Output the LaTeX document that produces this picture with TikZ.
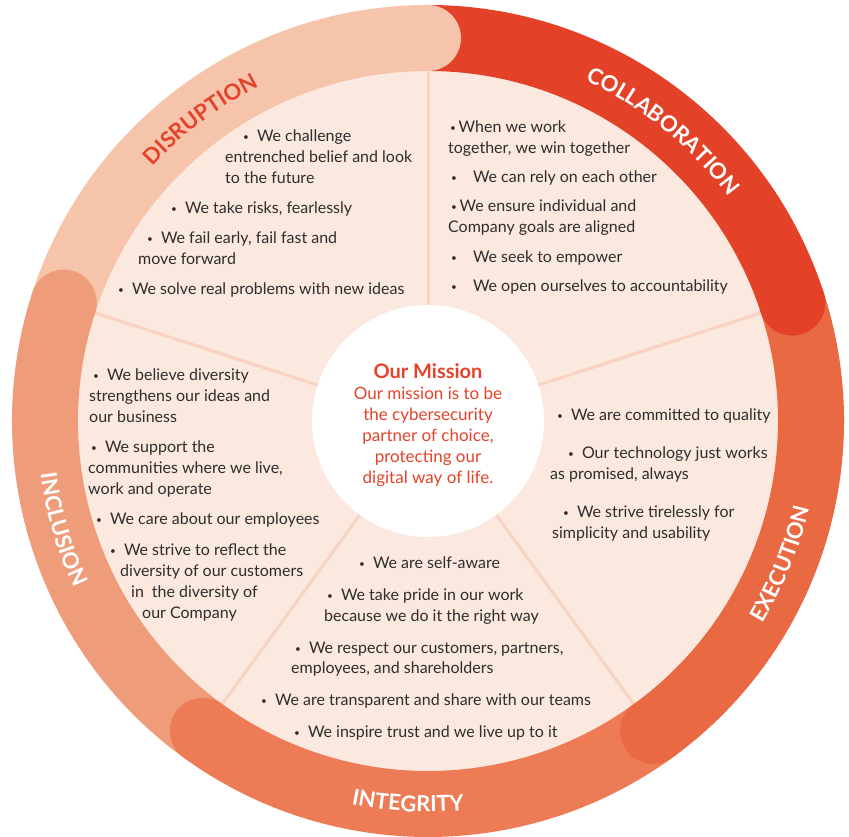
\documentclass[tikz,border=0pt]{standalone}
\usepackage{fontspec}
\setmainfont{Lato}
\usetikzlibrary{decorations.text}

\definecolor{disrupt}{HTML}{F6C4AB}
\definecolor{collab}{HTML}{E34229}
\definecolor{execut}{HTML}{E96943}
\definecolor{integ}{HTML}{EC7B56}
\definecolor{inclus}{HTML}{EF9C7B}
\definecolor{petal}{HTML}{FBE8DE}
\definecolor{spoke}{HTML}{F8D3C1}
\definecolor{ink}{HTML}{2E2E2E}
\definecolor{missred}{HTML}{E3432A}

\newcommand{\bul}{\raisebox{1.2pt}{\fontsize{10}{10}\selectfont\textbullet}}
\newcommand{\lab}{\fontsize{22}{22}\selectfont\bfseries}

\tikzset{
    txt/.style={anchor=base west, inner sep=0pt, text=ink, font=\fontsize{16}{19}\selectfont},
    band/.style={line width=66pt},
    arclab/.style={decorate, decoration={text along path, text align=center, text={#1}}},
}

\begin{document}
\begin{tikzpicture}[x=1pt, y=1pt, line join=round]
    \useasboundingbox (0,0) rectangle (849,837);
    \begin{scope}[shift={(428,416)}]
        \fill[petal] (0,0) circle (351);
        \foreach \a in {90,18,-54,-126,162}
            \draw[spoke, line width=3pt] (\a:115) -- (\a:351);
        % ring
        \draw[band, disrupt] (162:383) arc[start angle=162, end angle=90, radius=383];
        \draw[band, collab] (90:383) arc[start angle=90, end angle=18, radius=383];
        \draw[band, execut] (18:383) arc[start angle=18, end angle=-54, radius=383];
        \draw[band, integ] (-54:383) arc[start angle=-54, end angle=-126, radius=383];
        \draw[band, inclus] (-126:383) arc[start angle=-126, end angle=-198, radius=383];
        \fill[disrupt] (90:383) circle (33);
        \fill[collab] (18:383) circle (33);
        \fill[execut] (-54:383) circle (33);
        \fill[integ] (-126:383) circle (33);
        \fill[inclus] (162:383) circle (33);
        % labels on the ring
        \path[arclab={|\lab\color{missred}|DISRUPTION}] (157:375) arc[start angle=157, end angle=97, radius=375];
        \path[arclab={|\lab\color{white}|COLLABORATION}] (85:375) arc[start angle=85, end angle=17, radius=375];
        \path[arclab={|\lab\color{white}|EXECUTION}] (-52:391) arc[start angle=-52, end angle=8, radius=391];
        \path[arclab={|\lab\color{white}|INTEGRITY}] (-123:391) arc[start angle=-123, end angle=-63, radius=391];
        \path[arclab={|\lab\color{white}|INCLUSION}] (166:391) arc[start angle=166, end angle=227, radius=391];
        \node[circle, fill=white, minimum size=232pt, inner sep=0pt] (hub) at (0,0) {};
    \end{scope}

    \node[anchor=center, align=center, inner sep=0pt, text=missred, font=\fontsize{17}{21}\selectfont] (mission) at (428,412)
        {{\bfseries\fontsize{20}{21}\selectfont Our Mission}\\Our mission is to be\\the cybersecurity\\partner of choice,\\protecting our\\digital way of life.};

    % disruption
    \node[txt] (d1) at (243,695) {\bul\enspace We challenge};
    \node[txt] (d2) at (225,674) {entrenched belief and look};
    \node[txt] (d3) at (225,653) {to the future};
    \node[txt] (d4) at (171,623) {\bul\enspace We take risks, fearlessly};
    \node[txt] (d5) at (147,593) {\bul\enspace We fail early, fail fast and};
    \node[txt] (d6) at (138,572) {move forward};
    \node[txt] (d7) at (118,542) {\bul\enspace We solve real problems with new ideas};

    % collaboration
    \node[txt] (c1) at (450,704) {\bul\,When we work};
    \node[txt] (c2) at (448,683) {together, we win together};
    \node[txt] (c3) at (451,654) {\bul\quad We can rely on each other};
    \node[txt] (c4) at (451,625) {\bul\,We ensure individual and};
    \node[txt] (c5) at (448,604) {Company goals are aligned};
    \node[txt] (c6) at (451,574) {\bul\quad We seek to empower};
    \node[txt] (c7) at (451,545) {\bul\quad We open ourselves to accountability};

    % execution
    \node[txt] (e1) at (557,416) {\bul\enspace We are committed to quality};
    \node[txt] (e2) at (568,378) {\bul\enspace Our technology just works};
    \node[txt] (e3) at (550,357) {as promised, always};
    \node[txt] (e4) at (563,319) {\bul\enspace We strive tirelessly for};
    \node[txt] (e5) at (552,298) {simplicity and usability};

    % integrity
    \node[txt] (g1) at (359,268) {\bul\enspace We are self-aware};
    \node[txt] (g2) at (327,236) {\bul\enspace We take pride in our work};
    \node[txt] (g3) at (324,215) {because we do it the right way};
    \node[txt] (g4) at (295,183) {\bul\enspace We respect our customers, partners,};
    \node[txt] (g5) at (291,163) {employees, and shareholders};
    \node[txt] (g6) at (261,131) {\bul\enspace We are transparent and share with our teams};
    \node[txt] (g7) at (294,99) {\bul\enspace We inspire trust and we live up to it};

    % inclusion
    \node[txt] (i1) at (93,456) {\bul\enspace We believe diversity};
    \node[txt] (i2) at (89,435) {strengthens our ideas and};
    \node[txt] (i3) at (89,414) {our business};
    \node[txt] (i4) at (91,384) {\bul\enspace We support the};
    \node[txt] (i5) at (88,363) {communities where we live,};
    \node[txt] (i6) at (88,342) {work and operate};
    \node[txt] (i7) at (96,312) {\bul\enspace We care about our employees};
    \node[txt] (i8) at (110,281) {\bul\enspace We strive to reflect the};
    \node[txt] (i9) at (120,260) {diversity of our customers};
    \node[txt] (i10) at (131,239) {in\enspace the diversity of};
    \node[txt] (i11) at (142,218) {our Company};
\end{tikzpicture}
\end{document}
